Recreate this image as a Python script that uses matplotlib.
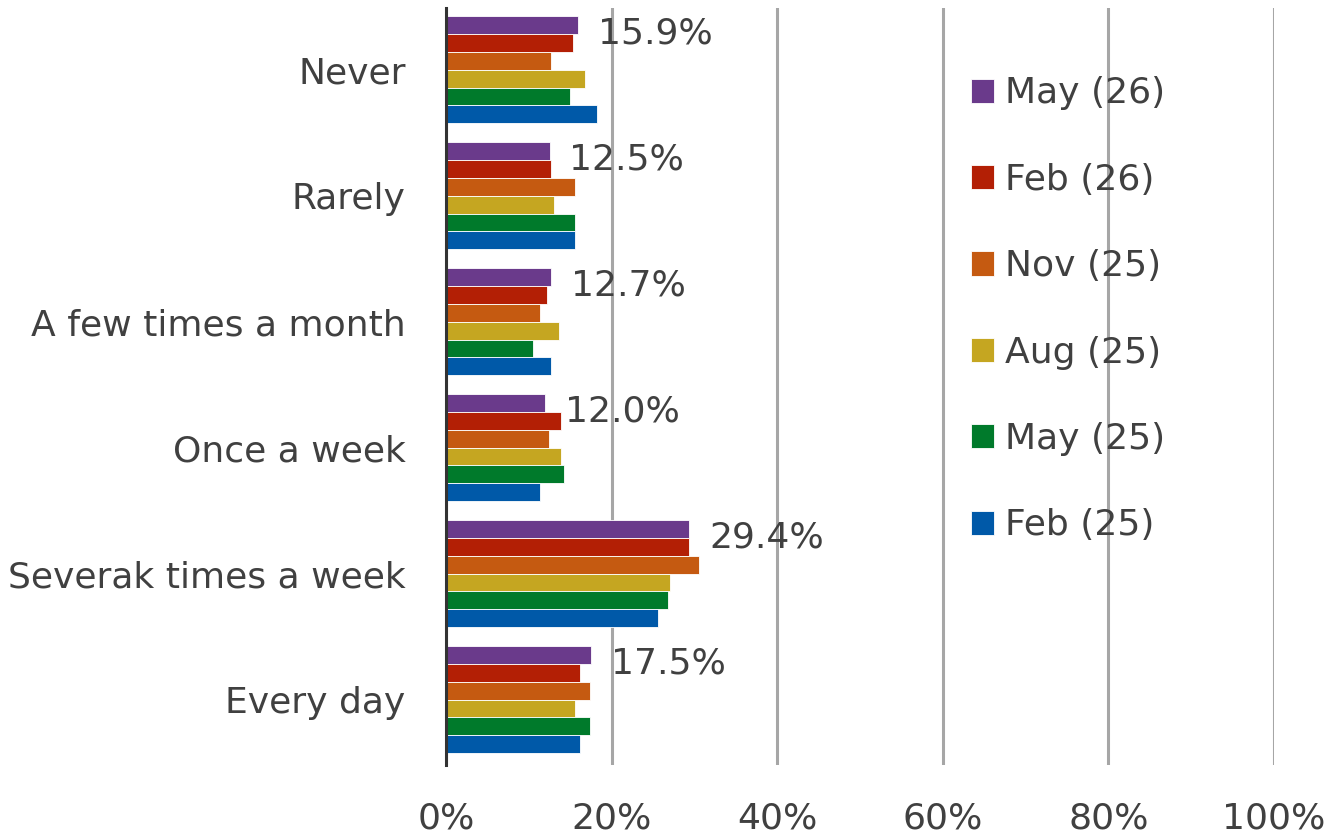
import matplotlib
matplotlib.use("Agg")
import matplotlib.pyplot as plt
import numpy as np

categories = ["Never", "Rarely", "A few times a month", "Once a week",
              "Severak times a week", "Every day"]
series_names = ["May (26)", "Feb (26)", "Nov (25)", "Aug (25)", "May (25)", "Feb (25)"]
may26 = [15.9, 12.5, 12.7, 12.0, 29.4, 17.5]
feb26 = [15.3, 12.7, 12.2, 13.9, 29.4, 16.2]
nov25 = [12.7, 15.6, 11.4, 12.4, 30.5, 17.4]
aug25 = [16.8, 13.0, 13.6, 13.9, 27.1, 15.6]
may25 = [15.0, 15.6, 10.5, 14.3, 26.8, 17.4]
feb25 = [18.2, 15.6, 12.7, 11.4, 25.6, 16.2]
series = [may26, feb26, nov25, aug25, may25, feb25]
colors = ["#6A3A8B", "#B31F05", "#C55A11", "#C5A621", "#007A2B", "#0059A8"]
xticks = [0, 20, 40, 60, 80, 100]
xticklabels = ["0%", "20%", "40%", "60%", "80%", "100%"]

txt = "#404040"
plt.rcParams['font.family'] = ['DejaVu Sans']
FS = 26

fig = plt.figure(figsize=(13.41, 8.4), dpi=100)
ax = fig.add_axes([446/1341, 1-765/840, (1274-446)/1341, (765-8)/840])

n = len(series)
h = 0.142
y = np.arange(len(categories))
handles = []
for i, (vals, c, name) in enumerate(zip(series, colors, series_names)):
    pos = y + (i - (n-1)/2) * h
    b = ax.barh(pos, vals, height=h, color=c, edgecolor="#ffffff", linewidth=0.6,
                label=name, zorder=2)
    handles.append(b)
    if i == 0:
        for p, v in zip(pos, vals):
            ax.text(v + 2.4, p + 0.07, f"{v:.1f}%", va="center", ha="left",
                    fontsize=FS, color=txt, zorder=3)

ax.set_ylim(5.52, -0.49)
ax.set_xlim(0, 100)
ax.set_yticks(y)
ax.set_yticklabels(categories, fontsize=FS, color=txt)
ax.set_xticks(xticks)
ax.set_xticklabels(xticklabels, fontsize=FS, color=txt)
ax.tick_params(axis="y", length=0, pad=29)
ax.tick_params(axis="x", length=0, pad=26)
ax.xaxis.grid(True, color="#a6a6a6", linewidth=2.2, zorder=1)
ax.set_axisbelow(True)
for s in ["top", "right", "bottom"]:
    ax.spines[s].set_visible(False)
ax.spines["left"].set_color("#333333")
ax.spines["left"].set_linewidth(2.2)
ax.spines["left"].set_zorder(4)

leg = fig.legend(handles=handles, labels=series_names, loc="upper left",
                 bbox_to_anchor=(938/1341, 1-44/840), frameon=False,
                 fontsize=FS, handlelength=0.65, handleheight=0.65,
                 handletextpad=0.3, labelspacing=1.45, labelcolor=txt)

fig.savefig("out.png", dpi=100)
